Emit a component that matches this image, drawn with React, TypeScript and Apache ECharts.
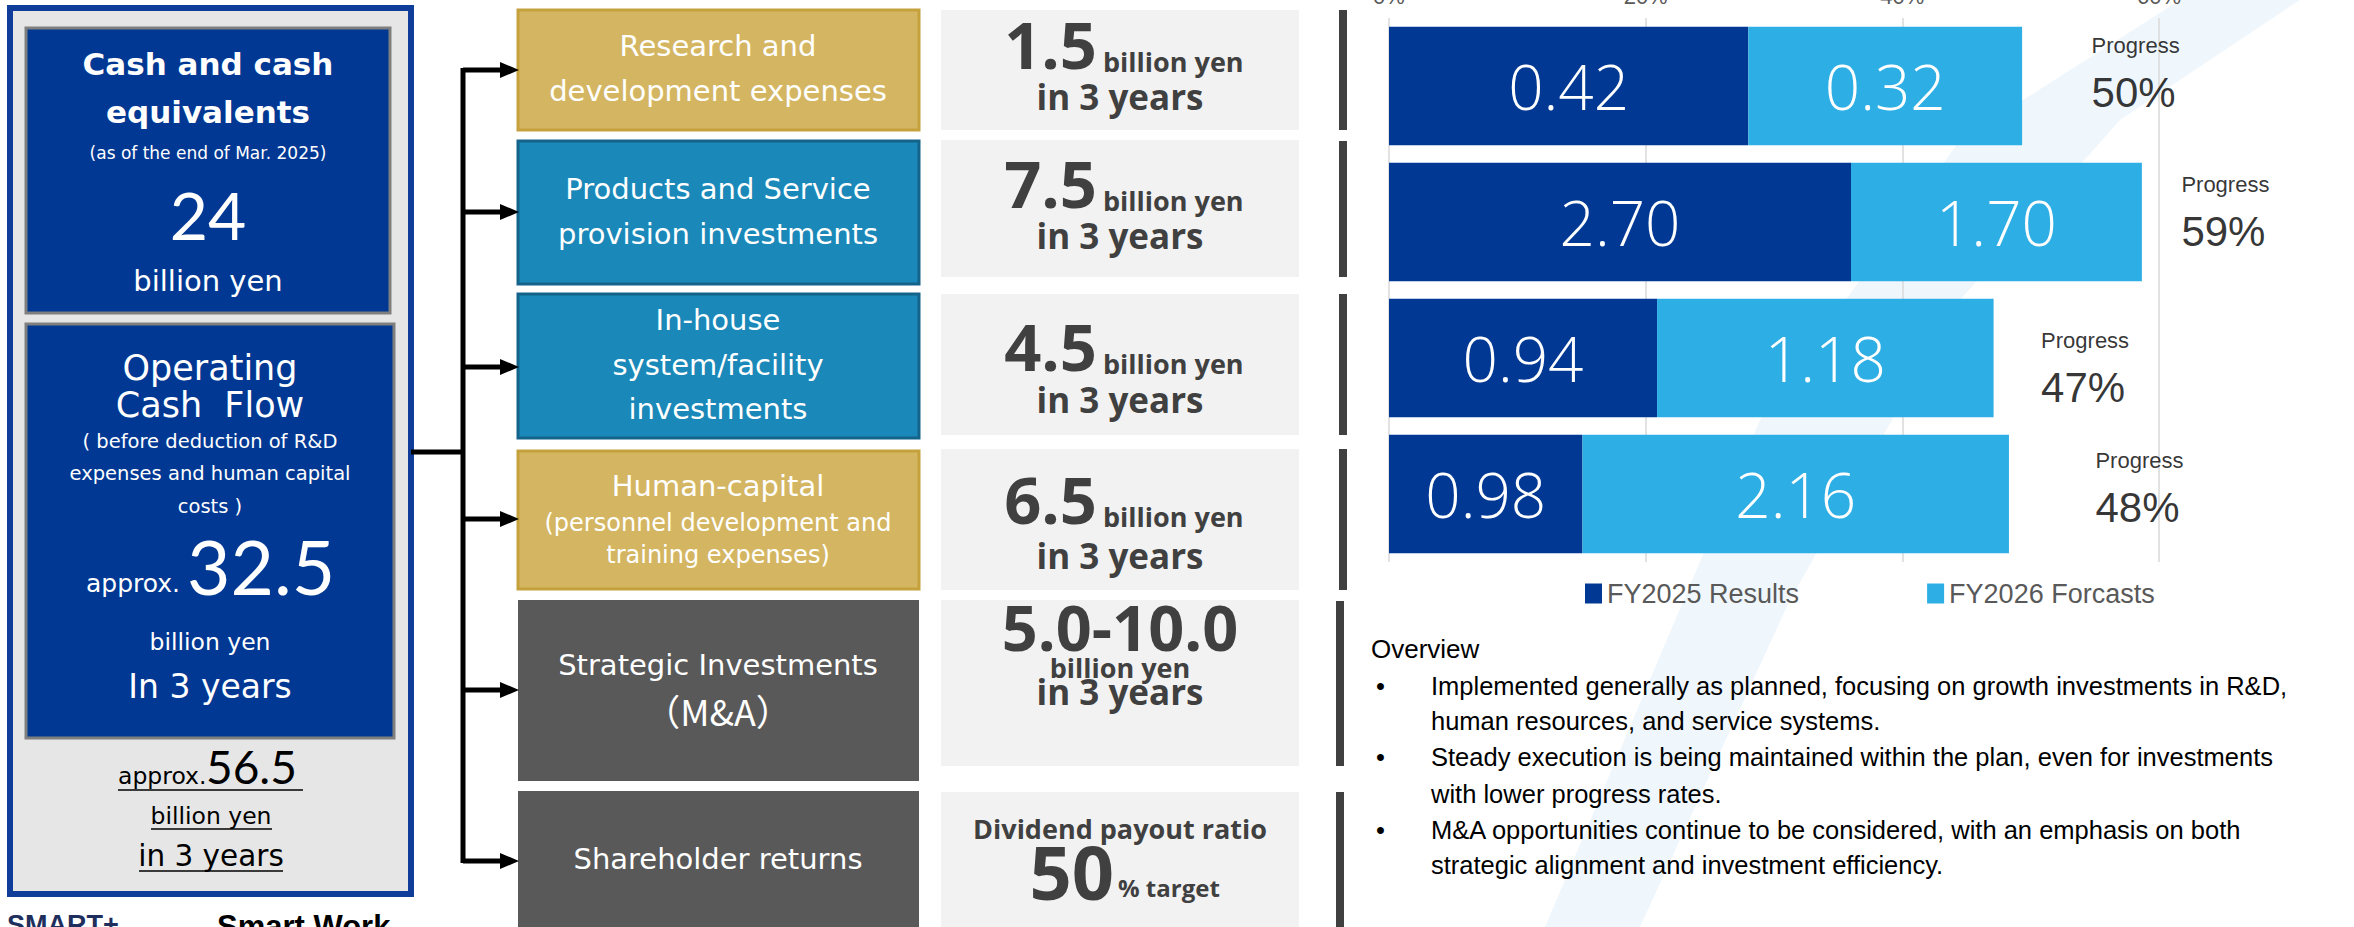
import React, { useEffect, useRef } from "react";
import * as echarts from "echarts";

// ---- data ----
const categories = [
  "Research and development expenses",
  "Products and Service provision investments",
  "In-house system/facility investments",
  "Human-capital",
];
const targets = [1.5, 7.5, 4.5, 6.5]; // billion yen in 3 years
const results = [0.42, 2.7, 0.94, 0.98]; // FY2025 Results
const forecasts = [0.32, 1.7, 1.18, 2.16]; // FY2026 Forcasts
const progress = [50, 59, 47, 48]; // Progress %
const seriesNames = ["FY2025 Results", "FY2026 Forcasts"];
const xTickMax = 60;
const xTickStep = 20;

const targetTexts = ["1.5", "7.5", "4.5", "6.5"];

const overviewLines = [
  { bullet: true, text: "Implemented generally as planned, focusing on growth investments in R&D," },
  { bullet: false, text: "human resources, and service systems." },
  { bullet: true, text: "Steady execution is being maintained within the plan, even for investments" },
  { bullet: false, text: "with lower progress rates." },
  { bullet: true, text: "M&A opportunities continue to be considered, with an emphasis on both" },
  { bullet: false, text: "strategic alignment and investment efficiency." },
];

// ---- styles ----
const GEO = "'DejaVu Sans', sans-serif";
const NUM = "Lato, sans-serif";
const BOLD = "'Open Sans', sans-serif";
const NARROW = "'Liberation Sans', Arial, sans-serif";
const NAVY = "#003893";
const GOLD = "#d4b662";
const GOLD_B = "#c4a13d";
const TEAL = "#1a88b8";
const TEAL_B = "#14638a";
const DGRAY = "#595959";
const TXTGRAY = "#404040";

function t(text: string, x: number, y: number, size: number, o: any = {}) {
  const align = o.align ?? "center";
  return {
    type: "text",
    x,
    y,
    z: 20,
    silent: true,
    style: {
      text,
      fill: o.fill ?? "#ffffff",
      font: `${o.weight ?? "normal"} ${size}px ${o.family ?? GEO}`,
      textAlign: align,
      align,
      textVerticalAlign: "middle",
      verticalAlign: "middle",
    },
  };
}
function r(x: number, y: number, w: number, h: number, fill: string, stroke?: string, lw = 0) {
  return {
    type: "rect",
    z: 5,
    silent: true,
    shape: { x, y, width: w, height: h },
    style: { fill, stroke: stroke ?? null, lineWidth: lw },
  };
}
function ln(x1: number, y1: number, x2: number, y2: number, color: string, w: number) {
  return {
    type: "line",
    z: 6,
    silent: true,
    shape: { x1, y1, x2, y2 },
    style: { stroke: color, lineWidth: w },
  };
}

export default function App() {
  const ref = useRef<HTMLDivElement>(null);
  useEffect(() => {
    if (!ref.current) return;
    const chart = echarts.init(ref.current, undefined, { renderer: "svg" });

    const resPct = results.map((v, i) => (v / targets[i]) * 100);
    const fcPct = forecasts.map((v, i) => (v / targets[i]) * 100);
    const totPct = resPct.map((v, i) => v + fcPct[i]);
    const progOffsets = [
      [69, -9],
      [39, -6],
      [47, 14],
      [86, -2],
    ];

    const g: any[] = [];
    // background watermark (faint)
    g.push({
      type: "polygon",
      z: 0,
      silent: true,
      shape: {
        points: [
          [1545, 927],
          [1640, 927],
          [1790, 600],
          [1960, 300],
          [2120, 120],
          [2300, 0],
          [2180, 0],
          [1960, 140],
          [1760, 420],
        ],
      },
      style: { fill: "#f0f7fc" },
    });

    // ---- left panel ----
    g.push(r(10, 8, 401, 886, "#e6e6e6", "#0f3d99", 6));
    g.push(r(26, 28, 364, 285, NAVY, "#7f7f7f", 3));
    g.push(r(26, 324, 368, 414, NAVY, "#7f7f7f", 3));
    g.push(t("Cash and cash", 208, 64, 31, { weight: "bold" }));
    g.push(t("equivalents", 208, 112, 31, { weight: "bold" }));
    g.push(t("(as of the end of Mar. 2025)", 208, 153, 17));
    g.push(t("24", 208, 214, 66, { family: NUM }));
    g.push(t("billion yen", 208, 281, 29));
    g.push(t("Operating", 210, 368, 35));
    g.push(t("Cash  Flow", 210, 405, 35));
    g.push(t("( before deduction of R&D", 210, 441, 19.5));
    g.push(t("expenses and human capital", 210, 473, 19.5));
    g.push(t("costs )", 210, 506, 19.5));
    g.push(t("approx.", 86, 583, 25, { align: "left" }));
    g.push(t("32.5", 187, 566, 75, { align: "left", family: NUM }));
    g.push(t("billion yen", 210, 642, 23.5));
    g.push(t("In 3 years", 210, 686, 33));
    g.push(t("approx.", 118, 776, 23.5, { align: "left", fill: "#000" }));
    g.push(t("56.5", 206, 766, 46, { align: "left", fill: "#000", family: NUM }));
    g.push(ln(118, 790, 303, 790, "#000", 1.5));
    g.push(t("billion yen", 211, 816, 23.5, { fill: "#000" }));
    g.push(ln(151, 829, 272, 829, "#000", 1.5));
    g.push(t("in 3 years", 211, 856, 29.5, { fill: "#000" }));
    g.push(ln(139, 871, 283, 871, "#000", 1.5));
    g.push(t("SMART+", 7, 925, 27, { align: "left", weight: "bold", fill: "#1e2f5e", family: NARROW }));
    g.push(t("Smart Work", 217, 926, 31, { align: "left", weight: "bold", fill: "#000", family: NARROW }));

    // ---- connectors ----
    const arrowYs = [70, 212, 367, 519, 690, 861];
    g.push(ln(411, 452, 465, 452, "#000", 5));
    g.push(ln(463, 68, 463, 863, "#000", 5));
    arrowYs.forEach((y) => {
      g.push(ln(463, y, 502, y, "#000", 5));
      g.push({
        type: "polygon",
        z: 6,
        silent: true,
        shape: { points: [[500, y - 8], [519, y], [500, y + 8]] },
        style: { fill: "#000" },
      });
    });

    // ---- category boxes ----
    const catBoxes = [
      { y: 10, h: 120, fill: GOLD, stroke: GOLD_B },
      { y: 141, h: 143, fill: TEAL, stroke: TEAL_B },
      { y: 294, h: 144, fill: TEAL, stroke: TEAL_B },
      { y: 451, h: 138, fill: GOLD, stroke: GOLD_B },
      { y: 600, h: 181, fill: DGRAY },
      { y: 791, h: 220, fill: DGRAY },
    ];
    catBoxes.forEach((b) =>
      g.push(r(518, b.y, 401, b.h, b.fill, b.stroke, b.stroke ? 3 : 0))
    );
    const cx = 718;
    g.push(t("Research and", cx, 46, 29));
    g.push(t("development expenses", cx, 91, 29));
    g.push(t("Products and Service", cx, 189, 29));
    g.push(t("provision investments", cx, 234, 29));
    g.push(t("In-house", cx, 320, 29));
    g.push(t("system/facility", cx, 365, 29));
    g.push(t("investments", cx, 409, 29));
    g.push(t("Human-capital", cx, 486, 29));
    g.push(t("(personnel development and", cx, 523, 24));
    g.push(t("training expenses)", cx, 555, 24));
    g.push(t("Strategic Investments", cx, 665, 29));
    g.push(t("（M&A）", cx, 710, 36, { family: "'Noto Sans CJK JP', " + GEO }));
    g.push(t("Shareholder returns", cx, 859, 29));

    // ---- value boxes ----
    const valBoxes = [
      { y: 10, h: 120 },
      { y: 140, h: 137 },
      { y: 294, h: 141 },
      { y: 449, h: 141 },
      { y: 600, h: 166 },
      { y: 792, h: 220 },
    ];
    valBoxes.forEach((b) => g.push(r(941, b.y, 358, b.h, "#f2f2f2")));
    const sepSegs = [
      [10, 130],
      [141, 277],
      [294, 435],
      [449, 590],
      [601, 766],
      [792, 940],
    ];
    sepSegs.forEach(([a, b], i) =>
      g.push(r(i >= 4 ? 1336 : 1339, a, 8, b - a, TXTGRAY))
    );
    const baselines = [
      [71, 109],
      [210, 248],
      [373, 412],
      [526, 568],
    ];
    const vo = { fill: TXTGRAY, weight: "bold", family: BOLD };
    baselines.forEach(([b1, b2], i) => {
      g.push(t(targetTexts[i], 1097, b1 - 27, 65, { ...vo, align: "right" }));
      g.push(t("billion yen", 1103, b1 - 10, 27, { ...vo, align: "left" }));
      g.push(t("in 3 years", 1120, b2 - 13, 35, vo));
    });
    g.push(t("5.0-10.0", 1120, 626, 63, vo));
    g.push(t("billion yen", 1120, 667, 27, vo));
    g.push(t("in 3 years", 1120, 691, 35, vo));
    g.push(t("Dividend payout ratio", 1120, 828, 27, vo));
    g.push(t("50", 1114, 871, 74, { ...vo, align: "right" }));
    g.push(t("% target", 1118, 887, 24, { ...vo, align: "left" }));

    // ---- overview ----
    g.push(t("Overview", 1371, 649, 26, { align: "left", fill: "#000", family: NARROW }));
    const ovYs = [686, 721, 757, 794, 830, 865];
    overviewLines.forEach((l, i) => {
      if (l.bullet) g.push(t("•", 1376, ovYs[i], 25.5, { align: "left", fill: "#000", family: NARROW }));
      g.push(t(l.text, 1431, ovYs[i], 25.5, { align: "left", fill: "#000", family: NARROW }));
    });

    const option: any = {
      animation: false,
      backgroundColor: "#ffffff",
      textStyle: { fontFamily: NARROW },
      grid: {
        left: 1389,
        top: 18,
        width: 770,
        height: 544,
        containLabel: false,
        outerBoundsMode: "none",
      },
      legend: {
        data: seriesNames,
        left: 1580,
        top: 575,
        itemWidth: 17,
        itemHeight: 20,
        itemGap: 128,
        icon: "rect",
        textStyle: { fontSize: 27, color: "#595959", fontFamily: NARROW },
      },
      xAxis: {
        type: "value",
        position: "top",
        min: 0,
        max: xTickMax,
        interval: xTickStep,
        axisLine: { show: false },
        axisTick: { show: false },
        axisLabel: { formatter: "{value}%", fontSize: 22, color: "#595959", margin: 11 },
        splitLine: { show: true, lineStyle: { color: "#d9d9d9", width: 1.5 } },
      },
      yAxis: {
        type: "category",
        inverse: true,
        data: categories,
        axisLine: { show: false },
        axisTick: { show: false },
        axisLabel: { show: false },
      },
      series: [
        {
          name: seriesNames[0],
          type: "bar",
          stack: "s",
          barCategoryGap: "13%",
          data: resPct,
          itemStyle: { color: NAVY },
          label: {
            show: true,
            position: "inside",
            color: "#fff",
            fontSize: 62,
            fontWeight: 300,
            fontFamily: BOLD,
            formatter: (p: any) => results[p.dataIndex].toFixed(2),
          },
          z: 3,
        },
        {
          name: seriesNames[1],
          type: "bar",
          stack: "s",
          barCategoryGap: "13%",
          data: fcPct,
          itemStyle: { color: "#2daee4" },
          label: {
            show: true,
            position: "inside",
            color: "#fff",
            fontSize: 62,
            fontWeight: 300,
            fontFamily: BOLD,
            formatter: (p: any) => forecasts[p.dataIndex].toFixed(2),
          },
          z: 3,
        },
        {
          name: "Progress",
          type: "scatter",
          symbolSize: 1,
          itemStyle: { color: "rgba(0,0,0,0)" },
          silent: true,
          data: totPct.map((v, i) => ({
            value: [v, i],
            label: { offset: progOffsets[i] },
          })),
          label: {
            show: true,
            position: "right",
            distance: 0,
            formatter: (p: any) => `{a|Progress}\n{b|${progress[p.dataIndex]}%}`,
            rich: {
              a: { fontSize: 22, lineHeight: 30, color: "#000", fontFamily: NARROW },
              b: { fontSize: 42, lineHeight: 64, color: "#000", fontFamily: NARROW },
            },
          },
          z: 4,
        },
      ],
      graphic: { elements: g },
    };
    chart.setOption(option);
    return () => chart.dispose();
  }, []);

  return (
    <div
      ref={ref}
      style={{ position: "fixed", left: 0, top: 0, width: 2354, height: 927 }}
    />
  );
}
